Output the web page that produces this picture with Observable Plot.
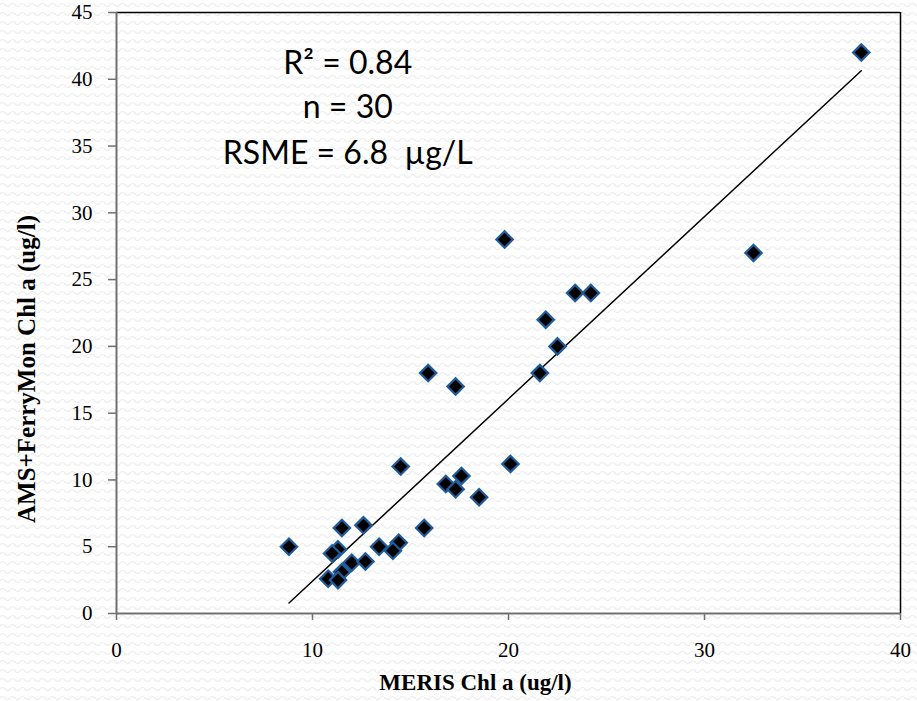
<!DOCTYPE html>
<html>
<head>
<meta charset="utf-8">
<script src="https://cdn.jsdelivr.net/npm/d3@7"></script>
<script src="https://cdn.jsdelivr.net/npm/@observablehq/plot@0.6"></script>
<style>
  html, body { margin: 0; padding: 0; }
  body {
    width: 917px; height: 701px; overflow: hidden;
    background-color: #ffffff;
    background-image: url("data:image/svg+xml;utf8,<svg xmlns='http://www.w3.org/2000/svg' width='10' height='9'><path d='M0 5 Q2.5 2 5 5 T10 5' fill='none' stroke='%23ededed' stroke-width='1.2'/></svg>");
  }
</style>
</head>
<body>
<div id="chart"></div>
<script>
// MERIS Chl a (ug/l) vs AMS+FerryMon Chl a (ug/l)
const meris = [38.0, 32.5, 19.8, 23.4, 24.2, 21.9, 22.5, 21.6, 15.9, 17.3,
               14.5, 20.1, 17.6, 16.8, 17.3, 18.5, 15.7, 11.5, 12.6, 8.8,
               13.4, 14.4, 14.1, 11.3, 11.0, 12.0, 12.7, 11.5, 10.8, 11.3];
const amsFerry = [42.0, 27.0, 28.0, 24.0, 24.0, 22.0, 20.0, 18.0, 18.0, 17.0,
                  11.0, 11.2, 10.3, 9.7, 9.3, 8.7, 6.4, 6.4, 6.6, 5.0,
                  5.0, 5.3, 4.7, 4.8, 4.5, 3.8, 3.9, 3.1, 2.6, 2.5];

// Trend line (as drawn in the reference)
const trendSlope = 1.365;
const trendIntercept = -11.23;

// Annotation lines
const statsLines = ["R² = 0.84", "n = 30", "RSME = 6.8  µg/L"];
const statsY = [41.2, 37.9, 34.4];
const statsX = 11.8;

const xTicks = [0, 10, 20, 30, 40];
const yTicks = [0, 5, 10, 15, 20, 25, 30, 35, 40, 45];

const points = meris.map((m, i) => ({x: m, y: amsFerry[i]}));
const xMin = d3.min(meris), xMax = d3.max(meris);
const trend = [xMin, xMax].map(x => ({x, y: trendSlope * x + trendIntercept}));
const stats = statsLines.map((t, i) => ({t, x: statsX, y: statsY[i]}));

const serif = "'Liberation Serif', 'DejaVu Serif', serif";

const plot = Plot.plot({
  width: 917,
  height: 701,
  marginLeft: 116,
  marginRight: 17,
  marginTop: 12,
  marginBottom: 88,
  style: {background: "transparent", fontFamily: serif, color: "#000"},
  x: {domain: [0, 40]},
  y: {domain: [0, 45]},
  marks: [
    Plot.ruleY([45], {stroke: "#000", strokeWidth: 1.5}),
    Plot.ruleX([40], {stroke: "#000", strokeWidth: 1.5}),
    Plot.axisX({ticks: xTicks, tickSize: 7, tickPadding: 22, stroke: "#707070", strokeWidth: 1.5,
                fontSize: 21, fontFamily: serif, fill: "#000", label: null}),
    Plot.axisY({ticks: yTicks, tickSize: 8, tickPadding: 16, stroke: "#707070", strokeWidth: 1.5,
                fontSize: 21, fontFamily: serif, fill: "#000", label: null}),
    Plot.ruleX([0], {stroke: "#707070", strokeWidth: 2}),
    Plot.ruleY([0], {stroke: "#707070", strokeWidth: 2}),
    Plot.line(trend, {x: "x", y: "y", stroke: "#000", strokeWidth: 1.5}),
    Plot.dot(points, {x: "x", y: "y", symbol: "diamond2", r: 7.4, fill: "#000",
                      stroke: "#1f5c99", strokeWidth: 2.2}),
    Plot.text(stats, {x: "x", y: "y", text: "t", fontSize: 32, fontFamily: "Lato, 'Open Sans', sans-serif",
                      fill: "#000", textAnchor: "middle"}),
    Plot.text(["MERIS Chl a (ug/l)"], {frameAnchor: "bottom", text: d => d, dy: 76, dx: -33,
                      textAnchor: "middle",
                      fontSize: 23, fontWeight: "bold", fontFamily: serif, fill: "#000"}),
    Plot.text(["AMS+FerryMon Chl a (ug/l)"], {frameAnchor: "left", text: d => d, dx: -90, dy: 56,
                      textAnchor: "middle", rotate: -90,
                      fontSize: 25, fontWeight: "bold", fontFamily: serif, fill: "#000"})
  ]
});
document.getElementById("chart").appendChild(plot);
</script>
</body>
</html>
